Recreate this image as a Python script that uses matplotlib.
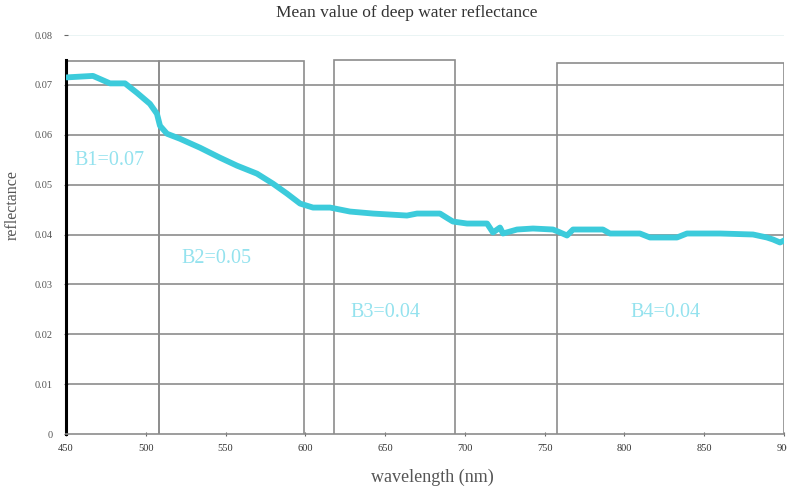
import matplotlib
matplotlib.use("Agg")
import matplotlib.pyplot as plt

# ---- data ----
wavelength = [450.4, 466.9, 477.6, 487.0, 494.5, 502.6, 507.0, 508.9, 513.3, 521.4,
              534.0, 546.5, 557.2, 569.7, 579.7, 588.5, 596.7, 604.8, 615.5, 628.0,
              642.4, 663.7, 670.0, 684.4, 689.4, 692.5, 701.3, 713.9, 717.6, 722.0,
              723.9, 732.7, 742.7, 755.2, 758.3, 764.0, 767.8, 786.5, 790.9, 809.7,
              816.0, 832.9, 839.2, 859.9, 880.6, 889.3, 893.1, 897.5, 900.0]
reflectance = [0.0715, 0.0718, 0.0703, 0.0703, 0.0684, 0.0662, 0.0642, 0.0618, 0.0602, 0.0592,
               0.0574, 0.0554, 0.0538, 0.0522, 0.0502, 0.0482, 0.0462, 0.0454, 0.0454, 0.0446,
               0.0442, 0.0438, 0.0442, 0.0442, 0.0432, 0.0426, 0.0422, 0.0422, 0.0404, 0.0414,
               0.0402, 0.0410, 0.0412, 0.0410, 0.0406, 0.0398, 0.0410, 0.0410, 0.0402, 0.0402,
               0.0394, 0.0394, 0.0402, 0.0402, 0.0400, 0.0394, 0.0390, 0.0384, 0.0388]

band_names = ["B1", "B2", "B3", "B4"]
band_means = ["0.07", "0.05", "0.04", "0.04"]
band_start = [450, 508, 618, 758]
band_end = [508, 599, 694, 900]
band_top = [0.0748, 0.0748, 0.0750, 0.0744]
label_x = [455.5, 522.5, 628.0, 803.5]
label_y = [0.0548, 0.0352, 0.0244, 0.0244]

x_ticks = [450, 500, 550, 600, 650, 700, 750, 800, 850, 900]
y_ticks = [0, 0.01, 0.02, 0.03, 0.04, 0.05, 0.06, 0.07, 0.08]
y_ticklabels = ["0", "0.01", "0.02", "0.03", "0.04", "0.05", "0.06", "0.07", "0.08"]

title = "Mean value of deep water reflectance"
xlabel = "wavelength (nm)"
ylabel = "reflectance"

# ---- styling ----
plt.rcParams['font.family'] = ['Liberation Serif', 'DejaVu Serif']
line_color = "#3ccbdb"
label_color = "#94e2ee"
grid_color = "#8c8c8c"

fig = plt.figure(figsize=(7.87, 4.90), dpi=100)
ax = fig.add_axes([66 / 787, 1 - 434 / 490, (784 - 66) / 787, (434 - 35) / 490])

ax.set_xlim(450, 900)
ax.set_ylim(0, 0.08)

# horizontal grid lines
for yv in y_ticks[1:-1]:
    ax.axhline(yv, color=grid_color, lw=1.2, zorder=1)
ax.axhline(0.08, color="#e6f2f2", lw=1.2, zorder=1)

# band boxes
for s, e, t in zip(band_start, band_end, band_top):
    ax.plot([s, s, e, e], [0, t, t, 0], color=grid_color, lw=1.2, zorder=2,
            solid_joinstyle="miter")

# curve
ax.plot(wavelength, reflectance, color=line_color, lw=4.2, zorder=3,
        solid_capstyle="round", solid_joinstyle="round")

# band labels
for nm, mv, lx, ly in zip(band_names, band_means, label_x, label_y):
    ax.text(lx, ly, f"{nm}={mv}", color=label_color, fontsize=14.5,
            ha="left", va="center", zorder=4)

ax.set_xticks(x_ticks)
ax.set_xticklabels([str(v) for v in x_ticks], fontsize=7.5, color="#333333")
ax.set_yticks(y_ticks)
ax.set_yticklabels(y_ticklabels, fontsize=7.5, color="#555555")
ax.tick_params(axis="both", length=3, width=0.8, color="#666666", direction="inout")
ax.tick_params(axis="x", pad=6)
ax.tick_params(axis="y", pad=8)

for side in ["top", "right"]:
    ax.spines[side].set_visible(False)
ax.spines["bottom"].set_color(grid_color)
ax.spines["bottom"].set_linewidth(1.2)
ax.spines["left"].set_color("black")
ax.spines["left"].set_linewidth(2.2)
ax.spines["left"].set_bounds(0, 0.075)

fig.text(407 / 787, 1 - 13 / 490, title, ha="center", va="center",
         fontsize=12.5, color="#333333")
fig.text(432 / 787, 1 - 477 / 490, xlabel, ha="center", va="center",
         fontsize=13, color="#555555")
fig.text(13 / 787, 1 - 205 / 490, ylabel, ha="center", va="center",
         rotation=90, fontsize=11.5, color="#555555")

fig.savefig("out.png", dpi=100)
